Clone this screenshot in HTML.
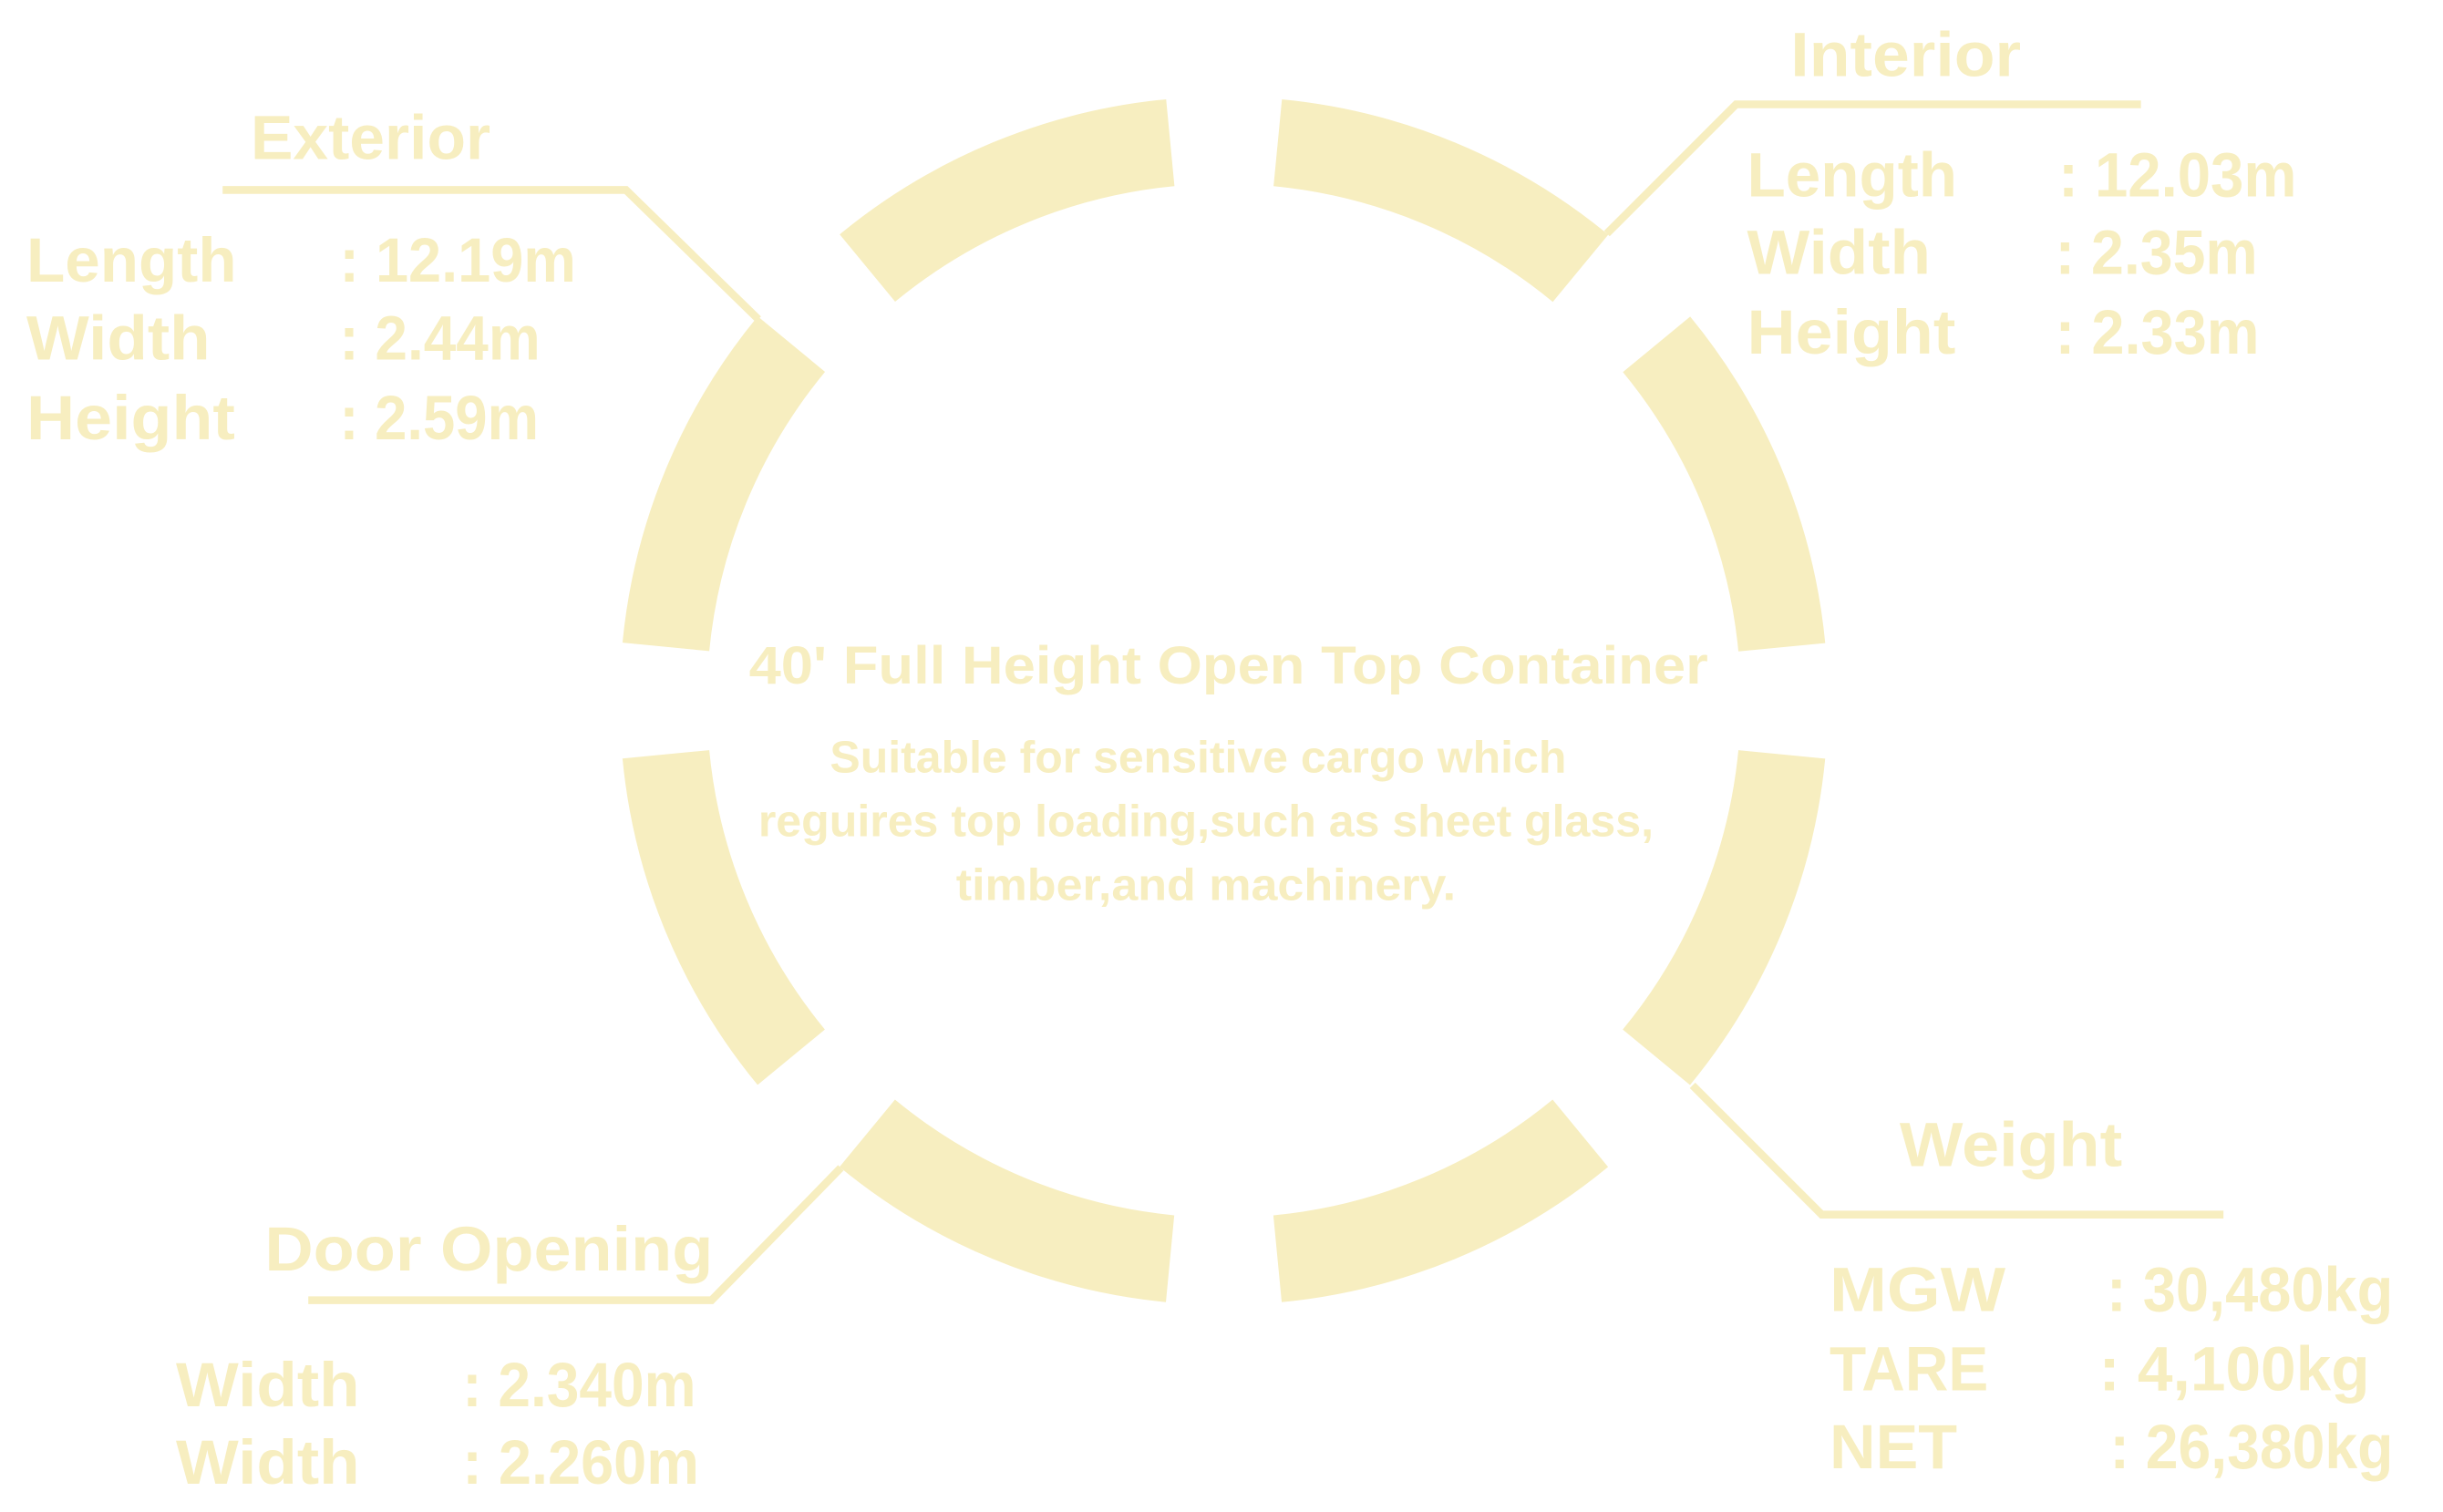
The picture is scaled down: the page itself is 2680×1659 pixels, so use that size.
<!DOCTYPE html>
<html><head><meta charset="utf-8"><style>
html,body{margin:0;padding:0;background:#fff;}
svg{display:block;}
text{font-family:"Liberation Sans",sans-serif;font-weight:bold;fill:#F7EEC0;}
</style></head><body>
<svg width="2680" height="1659" viewBox="0 0 1569 971" preserveAspectRatio="none" xmlns="http://www.w3.org/2000/svg">
<circle cx="786" cy="450" r="360" fill="none" stroke="#F7EEC0" stroke-width="56" stroke-dasharray="213.6 69.14" stroke-dashoffset="248.2"/>
<g fill="none" stroke="#F7EEC0" stroke-width="5">
<polyline points="143,122 402,122 487,205"/>
<polyline points="1375,67 1115,67 1032,150"/>
<polyline points="1428,780 1170,780 1087,697"/>
<polyline points="198,835 457,835 540,750"/>
</g>
<g font-size="40">
<text x="161" y="102" textLength="154" lengthAdjust="spacingAndGlyphs">Exterior</text>
<text x="17" y="181" textLength="135" lengthAdjust="spacingAndGlyphs">Length</text>
<text x="218" y="181" textLength="152" lengthAdjust="spacingAndGlyphs">: 12.19m</text>
<text x="17" y="231" textLength="118" lengthAdjust="spacingAndGlyphs">Width</text>
<text x="218" y="231" textLength="129" lengthAdjust="spacingAndGlyphs">: 2.44m</text>
<text x="17" y="282" textLength="134" lengthAdjust="spacingAndGlyphs">Height</text>
<text x="218" y="282" textLength="128" lengthAdjust="spacingAndGlyphs">: 2.59m</text>

<text x="1150" y="49" textLength="148" lengthAdjust="spacingAndGlyphs">Interior</text>
<text x="1122" y="126" textLength="135" lengthAdjust="spacingAndGlyphs">Length</text>
<text x="1322" y="126" textLength="153" lengthAdjust="spacingAndGlyphs">: 12.03m</text>
<text x="1122" y="176" textLength="118" lengthAdjust="spacingAndGlyphs">Width</text>
<text x="1320" y="176" textLength="130" lengthAdjust="spacingAndGlyphs">: 2.35m</text>
<text x="1122" y="227" textLength="134" lengthAdjust="spacingAndGlyphs">Height</text>
<text x="1320" y="227" textLength="131" lengthAdjust="spacingAndGlyphs">: 2.33m</text>

<text x="1220" y="749" textLength="143" lengthAdjust="spacingAndGlyphs">Weight</text>
<text x="1175" y="842" textLength="113" lengthAdjust="spacingAndGlyphs">MGW</text>
<text x="1353" y="842" textLength="184" lengthAdjust="spacingAndGlyphs">: 30,480kg</text>
<text x="1175" y="893" textLength="102" lengthAdjust="spacingAndGlyphs">TARE</text>
<text x="1348" y="893" textLength="174" lengthAdjust="spacingAndGlyphs">:  4,100kg</text>
<text x="1175" y="943" textLength="82" lengthAdjust="spacingAndGlyphs">NET</text>
<text x="1355" y="943" textLength="182" lengthAdjust="spacingAndGlyphs">: 26,380kg</text>

<text x="170" y="816" textLength="288" lengthAdjust="spacingAndGlyphs">Door Opening</text>
<text x="113" y="903" textLength="118" lengthAdjust="spacingAndGlyphs">Width</text>
<text x="297" y="903" textLength="150" lengthAdjust="spacingAndGlyphs">: 2.340m</text>
<text x="113" y="953" textLength="118" lengthAdjust="spacingAndGlyphs">Width</text>
<text x="297" y="953" textLength="152" lengthAdjust="spacingAndGlyphs">: 2.260m</text>
</g>
<text x="481" y="439" font-size="34" textLength="616" lengthAdjust="spacingAndGlyphs">40' Full Height Open Top Container</text>
<g font-size="29">
<text x="533" y="496" textLength="473" lengthAdjust="spacingAndGlyphs">Suitable for sensitive cargo which</text>
<text x="487" y="537" textLength="575" lengthAdjust="spacingAndGlyphs">reguires top loading,such as sheet glass,</text>
<text x="614" y="578" textLength="321" lengthAdjust="spacingAndGlyphs">timber,and machinery.</text>
</g>
</svg>
</body></html>
